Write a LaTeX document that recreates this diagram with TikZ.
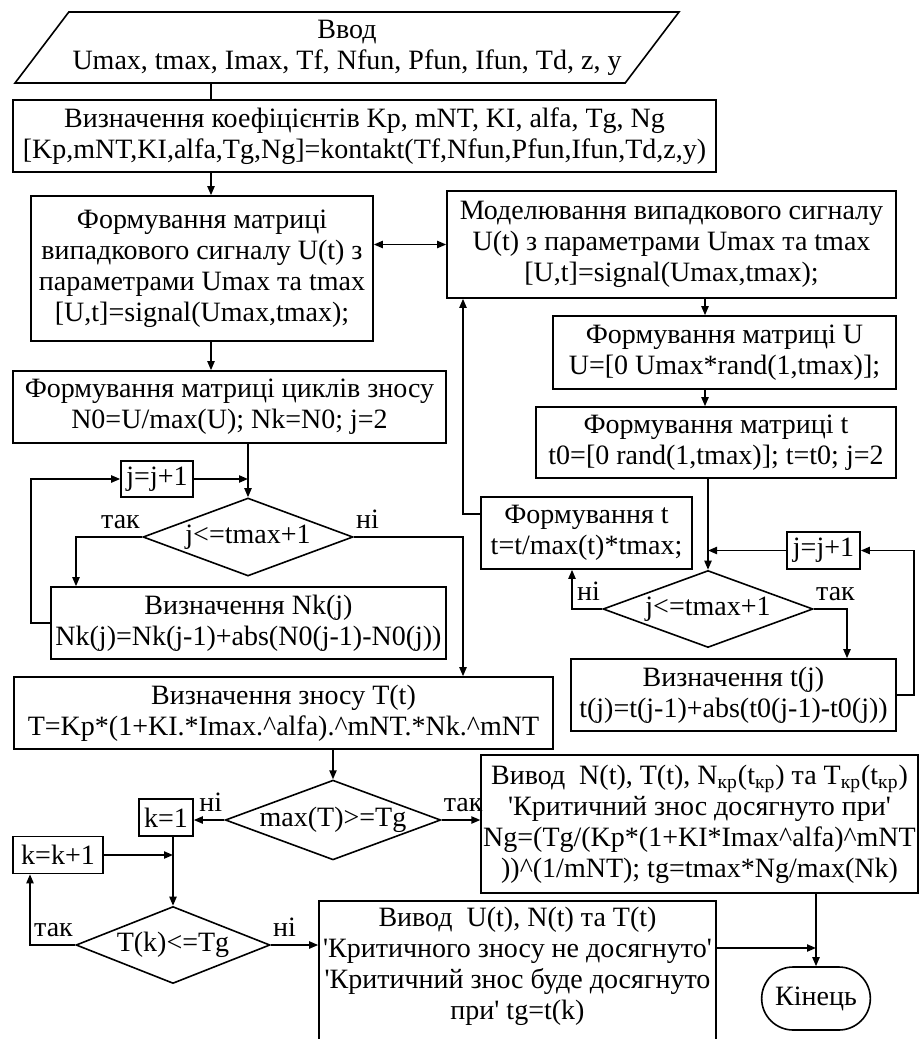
\documentclass[tikz,border=0pt]{standalone}
\usepackage{fontspec}
\setmainfont{Liberation Serif}
\usetikzlibrary{positioning,arrows.meta,shapes.geometric,shapes.misc}

\tikzset{
  block/.style={draw, rectangle, align=center, inner sep=1pt, line width=0.8pt},
  cond/.style={draw, diamond, aspect=2.7, inner sep=0pt, align=center, line width=0.8pt},
  io/.style={draw, trapezium, trapezium left angle=48, trapezium right angle=132,
    trapezium stretches=true, align=center, inner sep=1pt, line width=0.8pt},
  term/.style={draw, rounded rectangle, line width=0.8pt},
  line/.style={line width=0.8pt},
  arr/.style={line, -{Triangle[length=4.5pt,width=3.6pt]}},
  arrs/.style={line, {Triangle[length=4.5pt,width=3.6pt]}-{Triangle[length=4.5pt,width=3.6pt]}},
  lbl/.style={inner xsep=1pt, inner ysep=4pt}
}

\begin{document}
\begin{tikzpicture}[x=0.5pt,y=-0.5pt,font=\fontsize{14}{15.5}\selectfont]
\useasboundingbox[fill=white] (0,0) rectangle (918,1039);

% input data and coefficients
\node[io, minimum width=333pt, minimum height=35.5pt] (inp) at (347,47.5)
  {Ввод\\Umax, tmax, Imax, Tf, Nfun, Pfun, Ifun, Td, z, y};
\node[block, minimum width=351.5pt, minimum height=36pt] (coef) at (364.5,136)
  {Визначення коефіцієнтів Kp, mNT, KI, alfa, Tg, Ng\\{}[Kp,mNT,KI,alfa,Tg,Ng]=kontakt(Tf,Nfun,Pfun,Ifun,Td,z,y)};

% random signal
\node[block, minimum width=171pt, minimum height=72.5pt] (gsig) at (202,268.5)
  {Формування матриці\\випадкового сигналу U(t) з\\параметрами Umax та tmax\\{}[U,t]=signal(Umax,tmax);};
\node[block, minimum width=224.5pt, minimum height=53.5pt] (msig) at (671.5,244.5)
  {Моделювання випадкового сигналу\\U(t) з параметрами Umax та tmax\\{}[U,t]=signal(Umax,tmax);};
\node[block, minimum width=171.5pt, minimum height=36.5pt] (matU) at (724.5,352.5)
  {Формування матриці U\\U=[0 Umax*rand(1,tmax)];};
\node[block, minimum width=180pt, minimum height=35.5pt] (matt) at (716,442.5)
  {Формування матриці t\\t0=[0 rand(1,tmax)]; t=t0; j=2};
\node[block, minimum width=105.5pt, minimum height=36pt] (formt) at (586.5,533)
  {Формування t\\t=t/max(t)*tmax;};
\node[block, minimum width=36.5pt, minimum height=18.5pt] (incjR) at (823.5,550.5) {j=j+1};
\node[cond, minimum width=105pt, minimum height=38.5pt] (condR) at (708,609) {j<=tmax+1};
\node[block, minimum width=162.5pt, minimum height=36pt] (tj) at (733.5,695)
  {Визначення t(j)\\t(j)=t(j-1)+abs(t0(j-1)-t0(j))};

% drift cycles
\node[block, minimum width=216.5pt, minimum height=36pt] (cyc) at (229.5,407)
  {Формування матриці циклів зносу\\N0=U/max(U); Nk=N0; j=2};
\node[block, minimum width=36pt, minimum height=18pt] (incjL) at (157,479) {j=j+1};
\node[cond, minimum width=105pt, minimum height=39pt] (condL) at (248,537) {j<=tmax+1};
\node[block, minimum width=197.5pt, minimum height=36pt] (nkj) at (248.5,623)
  {Визначення Nk(j)\\Nk(j)=Nk(j-1)+abs(N0(j-1)-N0(j))};
\node[block, minimum width=269.5pt, minimum height=36pt] (drift) at (283.5,713)
  {Визначення зносу T(t)\\T=Kp*(1+KI.*Imax.\textasciicircum alfa).\textasciicircum mNT.*Nk.\textasciicircum mNT};

% critical drift check
\node[cond, minimum width=106.5pt, minimum height=38.5pt] (condT) at (333,820) {max(T)>=Tg};
\node[block, minimum width=27pt, minimum height=18.5pt] (k1) at (166,817.5) {k=1};
\node[block, minimum width=217.5pt, minimum height=69pt] (outN) at (699.5,824)
  {Вивод\ \ N(t), T(t), N\textsubscript{кр}(t\textsubscript{кр}) та T\textsubscript{кр}(t\textsubscript{кр})\\
   \textquotesingle Критичний знос досягнуто при\textquotesingle\\
   Ng=(Tg/(Kp*(1+KI*Imax\textasciicircum alfa)\textasciicircum mNT\\
   ))\textasciicircum(1/mNT); tg=tmax*Ng/max(Nk)};
\node[block, minimum width=45pt, minimum height=18.5pt] (kinc) at (58,855) {k=k+1};
\node[cond, minimum width=97pt, minimum height=38.5pt] (condK) at (173,945) {T(k)<=Tg};
\node[block, anchor=north, inner ysep=3pt, minimum width=198.5pt, text depth=40pt] (outU) at (517.5,900)
  {Вивод\ \ U(t), N(t) та T(t)\\
   \textquotesingle Критичного зносу не досягнуто\textquotesingle\\
   \textquotesingle Критичний знос буде досягнуто\\
   при\textquotesingle\ tg=t(k)};
\node[term, minimum width=61pt, minimum height=31.5pt] (end) at (816,998.5) {Кінець};

% branch labels
\node[lbl, above left] (yesL) at (condL.west) {так};
\node[lbl, above right] (noL) at (condL.east) {ні};
\node[lbl, above left] (noR) at (condR.west) {ні};
\node[lbl, above right] (yesR) at (condR.east) {так};
\node[lbl, above left] (noT) at (condT.west) {ні};
\node[lbl, above right] (yesT) at (condT.east) {так};
\node[lbl, above left] (yesK) at (condK.west) {так};
\node[lbl, above right] (noK) at (condK.east) {ні};

% turning points of the connectors
\coordinate (colL) at (211,0);
\coordinate (colR) at (705,0);
\coordinate (turnNoR) at (572,0);
\coordinate (turnYesR) at (847,0);
\coordinate (backR) at (914,0);
\coordinate (upR) at (463,514);
\coordinate (turnYesL) at (76,0);
\coordinate (backL) at (31,0);
\coordinate (backK) at (30,0);
\coordinate (toEnd) at (0,948);

% connectors
\draw[line] (inp.south -| colL) -- (coef.north -| colL);
\draw[arr] (coef.south -| colL) -- (gsig.north -| colL);
\draw[arrs] (gsig.east |- msig.west) -- (msig.west);
\draw[arr] (gsig.south -| colL) -- (cyc.north -| colL);

\draw[arr] (msig.south -| colR) -- (matU.north -| colR);
\draw[arr] (matU.south -| colR) -- (matt.north -| colR);
\draw[arr] (matt.south -| condR.north) -- (condR.north);
\draw[arr] (condR.west) -| (formt.south -| turnNoR);
\draw[arr] (condR.east) -| (tj.north -| turnYesR);
\draw[arr] (tj.east) -| (backR |- incjR.east) -- (incjR.east);
\draw[arr] (incjR.west) -- (incjR.west -| condR.north);
\draw[arr] (upR -| formt.west) -- (upR) -- (upR |- msig.south);

\draw[arr] (cyc.south -| condL.north) -- (condL.north);
\draw[arr] (incjL.east) -- (incjL.east -| condL.north);
\draw[arr] (condL.west) -| (nkj.north -| turnYesL);
\draw[arr] (nkj.west) -| (backL |- incjL.west) -- (incjL.west);
\draw[arr] (condL.east) -| (drift.north -| upR);

\draw[arr] (drift.south -| condT.north) -- (condT.north);
\draw[arr] (condT.west) -- (condT.west -| k1.east);
\draw[arr] (condT.east) -- (condT.east -| outN.west);
\draw[arr] (k1.south -| condK.north) -- (condK.north);
\draw[arr] (kinc.east) -- (kinc.east -| condK.north);
\draw[arr] (condK.west) -| (kinc.south -| backK);
\draw[arr] (condK.east) -- (condK.east -| outU.west);
\draw[arr] (toEnd -| outU.east) -- (toEnd -| end.north);
\draw[arr] (outN.south -| end.north) -- (end.north);
\end{tikzpicture}
\end{document}
